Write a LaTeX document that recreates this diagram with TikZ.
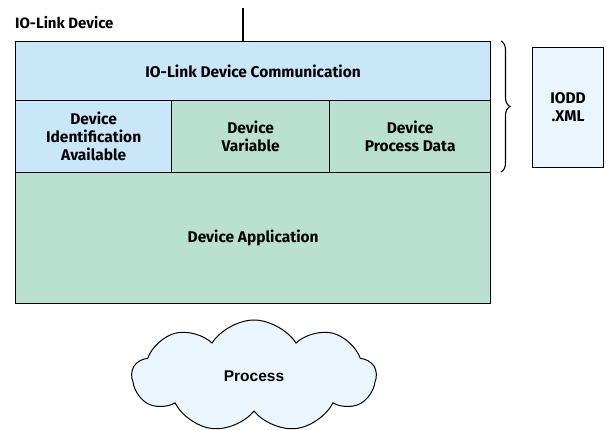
\documentclass[tikz,border=0pt]{standalone}
\usepackage{fontspec}
\setmainfont{Fira Sans}
\newfontfamily\cloudfont{Liberation Sans}
\usetikzlibrary{shapes.symbols}
\usetikzlibrary{decorations.pathreplacing}
\definecolor{comblue}{HTML}{C9E7F9}
\definecolor{devgreen}{HTML}{B9E0D1}
\definecolor{filepale}{HTML}{EAF5FD}
\tikzset{basic/.style={draw,line width=1.3pt,rectangle,inner sep=0pt,
                       font=\bfseries\fontsize{15.5}{18}\selectfont,
                       align=center,anchor=north west}}
\tikzset{commbox/.style={basic,fill=comblue}}
\tikzset{devbox/.style={basic,fill=devgreen}}
\tikzset{filebox/.style={basic,fill=filepale,line width=1.1pt}}
\tikzset{procloud/.style={draw,cloud,cloud puffs=9,cloud puff arc=115,
                          aspect=2.3,fill=filepale,line width=1pt,
                          minimum width=244pt,minimum height=112pt,
                          font=\cloudfont\bfseries\fontsize{15.5}{18}\selectfont}}

\begin{document}
\begin{tikzpicture}[x=1pt,y=-1pt]
    \useasboundingbox (0,0) rectangle (606,430);

    % title
    \node[anchor=west,font=\bfseries\fontsize{15}{17}\selectfont,inner sep=0pt]
        (title) at (15,23) {IO-Link Device};

    % communication layer
    \node[commbox,minimum width=475pt,minimum height=59pt] (comm) at (15,41)
        {IO-Link Device Communication};
    \coordinate (link) at (243,8);
    \draw[line width=1.3pt] (link) -- (link |- comm.north);

    % middle row
    \node[commbox,minimum width=156pt,minimum height=72pt] (ident) at (15,100)
        {Device\\Identification\\Available};
    \node[devbox,minimum width=158pt,minimum height=72pt] (var) at (171,100)
        {Device\\Variable};
    \node[devbox,minimum width=161pt,minimum height=72pt] (pdata) at (329,100)
        {Device\\Process Data};

    % application
    \node[devbox,minimum width=475pt,minimum height=131pt] (app) at (15,172)
        {Device Application};

    % brace and description file
    \coordinate (bracetop) at (501,41);
    \coordinate (bracebot) at (501,172);
    \draw[line width=1.1pt,decorate,decoration={brace,amplitude=9pt}]
        (bracetop) -- (bracebot);
    \node[filebox,minimum width=71pt,minimum height=120pt] (iodd) at (532,47)
        {IODD\\.XML};

    % process
    \node[procloud] (process) at (254,376) {Process};
\end{tikzpicture}
\end{document}
